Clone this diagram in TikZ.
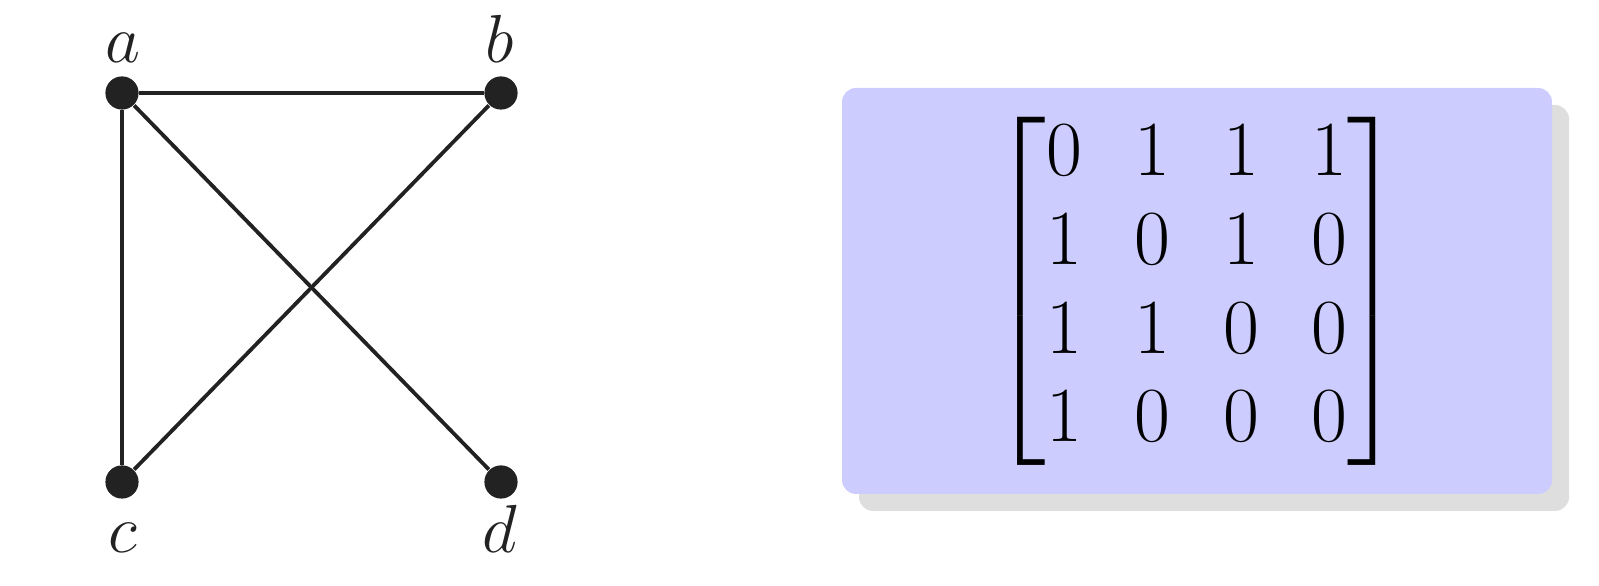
\RequirePackage{fix-cm}
\documentclass[tikz,border=0pt]{standalone}
\usepackage{amsmath}
\usetikzlibrary{shadows}
\definecolor{edgecol}{RGB}{34,34,34}
\definecolor{boxfill}{RGB}{204,204,255}
\definecolor{shadowgray}{RGB}{222,222,222}
\begin{document}
\begin{tikzpicture}[x=0.25pt,y=-0.25pt,
  vertex/.style={circle,fill=edgecol,inner sep=0pt,minimum size=8.3pt},
  edge/.style={draw=edgecol,line width=0.95pt},
  vlabel/.style={anchor=base,text=edgecol,inner sep=0pt,font=\fontsize{17}{20}\selectfont},
  matbox/.style={fill=boxfill,rounded corners=3.5pt,minimum width=177.5pt,minimum height=101.5pt,inner sep=0pt,
    drop shadow={fill=shadowgray,opacity=1,shadow xshift=4.25pt,shadow yshift=-4.25pt}}]
\useasboundingbox (0,0) rectangle (1599,586);
% graph
\node[vertex] (a) at (122,93) {};
\node[vertex] (b) at (501,93) {};
\node[vertex] (c) at (122,482) {};
\node[vertex] (d) at (501,482) {};
\node[vlabel] (la) at (123,63) {$a$};
\node[vlabel] (lb) at (500,63) {$b$};
\node[vlabel] (lc) at (123,553) {$c$};
\node[vlabel] (ld) at (500,553) {$d$};
\draw[edge] (a) -- (b);
\draw[edge] (a) -- (c);
\draw[edge] (a) -- (d);
\draw[edge] (b) -- (c);
% matrix box
\node[matbox] (box) at (1197,291) {\fontsize{19.5}{22.2}\selectfont\setlength{\arraycolsep}{6.6pt}\raisebox{-0.9pt}{$\begin{bmatrix}
0 & 1 & 1 & 1\\
1 & 0 & 1 & 0\\
1 & 1 & 0 & 0\\
1 & 0 & 0 & 0
\end{bmatrix}$}};
\end{tikzpicture}
\end{document}
